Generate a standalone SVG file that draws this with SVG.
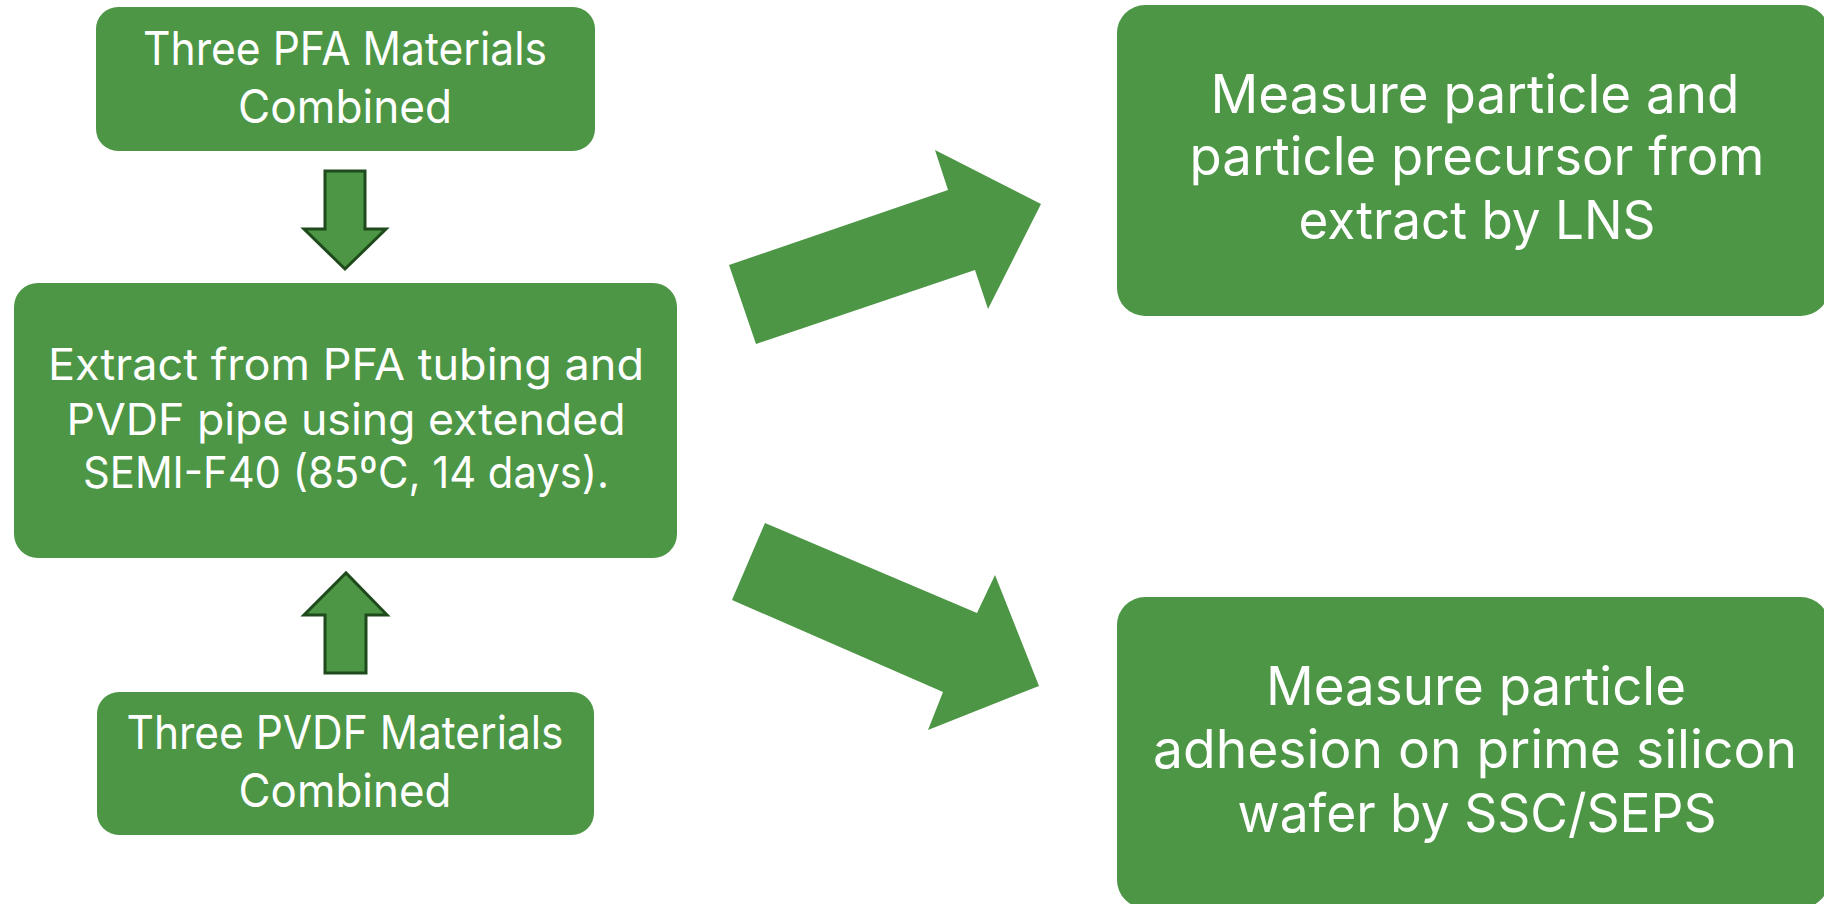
<svg xmlns="http://www.w3.org/2000/svg" width="1824" height="904" viewBox="0 0 1824 904">
<style>
.box{fill:#4C9645;}
.small{fill:#4C9645;stroke:#1E4A1C;stroke-width:3;stroke-linejoin:miter;}
.big{fill:#4C9645;}
text{font-family:Inter,"Liberation Sans",sans-serif;fill:#ffffff;text-anchor:middle;}
.t1{font-size:46px;}
.t2{font-size:44px;}
.t3{font-size:53px;}
</style>
<rect width="1824" height="904" fill="#ffffff"/>
<g id="connectors">
<polygon class="small" points="325,171 365,171 365,229 386,229 345,269 304,229 325,229"/>
<polygon class="small" points="325,673 366,673 366,615 387,615 346,573 304,615 325,615"/>
<polygon class="big" points="756,344 729,265 948,190 935,150 1041,204 988,309 975,270"/>
<polygon class="big" points="765,523 732,600 943,692 928,730 1039,686 995,575 977,613"/>
</g>
<g id="pfa">
<rect class="box" x="96" y="7" width="499" height="144" rx="22" ry="22"/>
<text class="t1" x="345" y="65" textLength="404" lengthAdjust="spacingAndGlyphs">Three PFA Materials</text>
<text class="t1" x="345" y="123" textLength="214" lengthAdjust="spacingAndGlyphs">Combined</text>
</g>
<g id="extract">
<rect class="box" x="14" y="283" width="663" height="275" rx="24" ry="24"/>
<text class="t2" x="346" y="380" textLength="596" lengthAdjust="spacingAndGlyphs">Extract from PFA tubing and</text>
<text class="t2" x="346" y="435" textLength="559" lengthAdjust="spacingAndGlyphs">PVDF pipe using extended</text>
<text class="t2" x="346" y="488" textLength="526" lengthAdjust="spacingAndGlyphs">SEMI-F40 (85ºC, 14 days).</text>
</g>
<g id="pvdf">
<rect class="box" x="97" y="692" width="497" height="143" rx="22" ry="22"/>
<text class="t1" x="345" y="749" textLength="437" lengthAdjust="spacingAndGlyphs">Three PVDF Materials</text>
<text class="t1" x="345" y="807" textLength="213" lengthAdjust="spacingAndGlyphs">Combined</text>
</g>
<g id="lns">
<rect class="box" x="1117" y="5" width="712" height="311" rx="28" ry="28"/>
<text class="t3" x="1475" y="113" textLength="529" lengthAdjust="spacingAndGlyphs">Measure particle and</text>
<text class="t3" x="1477" y="175" textLength="575" lengthAdjust="spacingAndGlyphs">particle precursor from</text>
<text class="t3" x="1477" y="239" textLength="357" lengthAdjust="spacingAndGlyphs">extract by LNS</text>
</g>
<g id="adhesion">
<rect class="box" x="1117" y="597" width="712" height="311" rx="28" ry="28"/>
<text class="t3" x="1476" y="705" textLength="420" lengthAdjust="spacingAndGlyphs">Measure particle</text>
<text class="t3" x="1475" y="768" textLength="644" lengthAdjust="spacingAndGlyphs">adhesion on prime silicon</text>
<text class="t3" x="1477" y="832" textLength="479" lengthAdjust="spacingAndGlyphs">wafer by SSC/SEPS</text>
</g>
</svg>
